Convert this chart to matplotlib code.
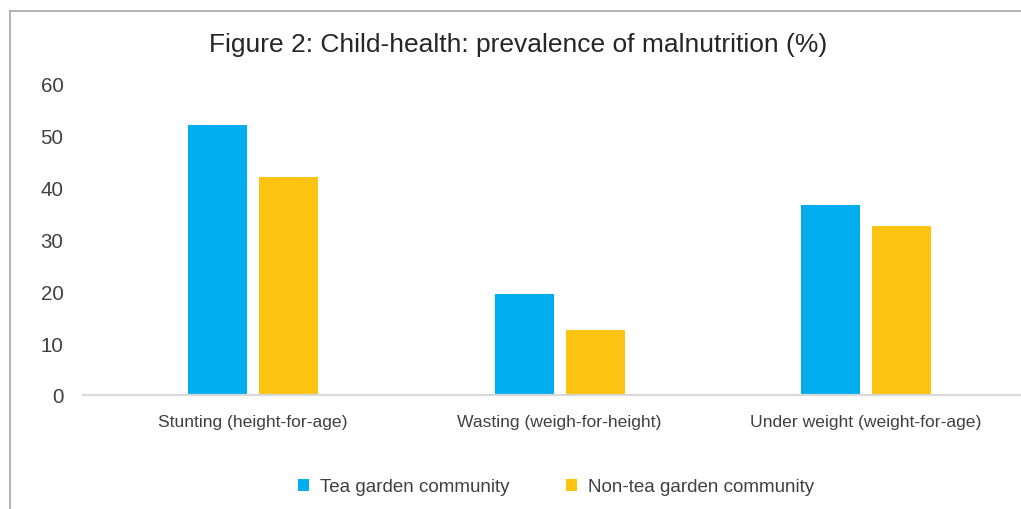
import numpy as np
import matplotlib.pyplot as plt
from matplotlib.lines import Line2D

plt.rcParams['font.family'] = ['Liberation Sans', 'DejaVu Sans']

categories = ["Stunting (height-for-age)", "Wasting (weigh-for-height)", "Under weight (weight-for-age)"]
tea_garden = [51.9, 19.4, 36.5]
non_tea_garden = [42.0, 12.5, 32.5]
series_names = ["Tea garden community", "Non-tea garden community"]

W, H = 1021, 510
fig = plt.figure(figsize=(W / 100, H / 100), dpi=100)
ax = fig.add_axes([83 / W, (H - 396) / H, (1021 - 83) / W, 312 / H])

x = np.arange(len(categories))
bw = 0.193
off = 0.116
ax.bar(x - off, tea_garden, bw, color="#00AEEF", label=series_names[0])
ax.bar(x + off, non_tea_garden, bw, color="#FDC311", label=series_names[1])

ax.set_xlim(-0.555, 2.505)
ax.set_ylim(0, 60)
ax.set_yticks(range(0, 61, 10))
ax.set_xticks(x)
ax.set_xticklabels(categories, fontsize=12.6, color="#404040")
ax.tick_params(axis="y", labelsize=14.8, colors="#404040", length=0, pad=14)
ax.tick_params(axis="x", length=0, pad=14)
for s in ["top", "right", "left"]:
    ax.spines[s].set_visible(False)
ax.spines["bottom"].set_color("#D9D9D9")
ax.spines["bottom"].set_linewidth(1.6)

fig.text(518 / W, 1 - 45 / H, "Figure 2: Child-health: prevalence of malnutrition (%)",
         ha="center", va="center", fontsize=19, color="#262626")

fig.legend(loc="center", bbox_to_anchor=(556 / W, 1 - 488 / H), ncol=2, frameon=False,
           fontsize=13.5, handlelength=0.6, handleheight=0.6, handletextpad=0.6,
           columnspacing=3.0, labelcolor="#404040")

# outer frame lines
fig.add_artist(Line2D([10 / W, 10 / W], [0, 1 - 12 / H], color="#A6A6A6", lw=1.2))
fig.add_artist(Line2D([10 / W, 1], [1 - 12 / H, 1 - 12 / H], color="#A6A6A6", lw=1.2))

fig.savefig("out.png", dpi=100, facecolor="white")
